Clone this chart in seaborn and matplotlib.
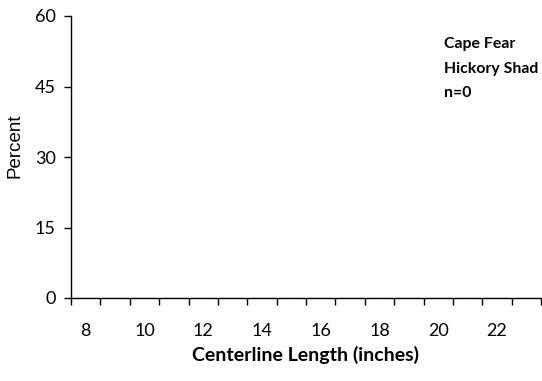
import matplotlib
matplotlib.use("Agg")
import matplotlib.pyplot as plt
import seaborn as sns
import pandas as pd
import numpy as np

# Length-frequency bins (inches) and percent of fish in each bin
lengths = [8, 9, 10, 11, 12, 13, 14, 15, 16, 17, 18, 19, 20, 21, 22, 23]
percent = [0, 0, 0, 0, 0, 0, 0, 0, 0, 0, 0, 0, 0, 0, 0, 0]
y_ticks = [0, 15, 30, 45, 60]
sample_label = ["Cape Fear", "Hickory Shad", "n=0"]

sns.set_theme(style="white", rc={"text.color": "black",
                                 "axes.labelcolor": "black",
                                 "xtick.color": "black",
                                 "ytick.color": "black"})
plt.rcParams["font.family"] = ["Lato", "DejaVu Sans"]

df = pd.DataFrame({"length": [str(v) for v in lengths], "percent": percent})

fig = plt.figure(figsize=(5.42, 3.81), dpi=100)
ax = fig.add_axes([71 / 542, 1 - 298 / 381, 470 / 542, (298 - 16) / 381])

sns.barplot(data=df, x="length", y="percent", color="#4f81bd", ax=ax,
            edgecolor="black", linewidth=0.8)

ax.set_xlim(-0.5, len(lengths) - 0.5)
ax.set_ylim(0, 60)
ax.set_yticks(y_ticks)
ax.set_yticklabels([str(v) for v in y_ticks], fontsize=13)

# Labels on even lengths, tick marks between bins
ax.set_xticks(range(len(lengths)))
ax.set_xticklabels([str(v) if v % 2 == 0 else "" for v in lengths], fontsize=13)
ax.set_xticks(np.arange(-0.5, len(lengths)), minor=True)
ax.tick_params(axis="x", which="major", length=0, pad=18)
ax.tick_params(axis="x", which="minor", length=5, width=1, color="black",
               direction="out", bottom=True)
ax.tick_params(axis="y", which="major", length=5, width=1, color="black",
               direction="out", left=True, pad=6)

for side in ["top", "right"]:
    ax.spines[side].set_visible(False)
for side in ["left", "bottom"]:
    ax.spines[side].set_color("black")
    ax.spines[side].set_linewidth(1)

ax.set_xlabel("Centerline Length (inches)", fontsize=14, fontweight="bold",
              labelpad=5)
ax.set_ylabel("Percent", fontsize=13.5, family=["Liberation Sans"])
ax.yaxis.set_label_coords(-0.1, 0.54)

ax.text(0.793, 0.925, "\n".join(sample_label), transform=ax.transAxes,
        fontsize=11.4, fontweight="bold", va="top", ha="left", linespacing=1.95)

fig.savefig("out.png", dpi=100)
